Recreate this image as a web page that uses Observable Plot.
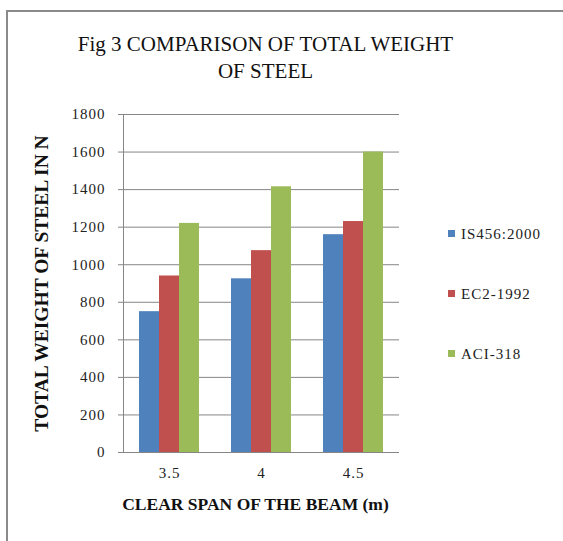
<!DOCTYPE html>
<html>
<head>
<meta charset="utf-8">
<script src="https://cdn.jsdelivr.net/npm/d3@7"></script>
<script src="https://cdn.jsdelivr.net/npm/@observablehq/plot@0.6"></script>
<style>
  html, body { margin: 0; padding: 0; background: #fff; }
  #wrap { position: relative; width: 563px; height: 541px; overflow: hidden; background: #fff; }
  #border { position: absolute; left: 6px; top: 10px; width: 600px; height: 600px;
            border-left: 2px solid #8a8a8a; border-top: 2px solid #8a8a8a; box-sizing: border-box; }
  #chart { position: absolute; left: 0; top: 0; }
  #legend { position: absolute; left: 448px; top: 226px; }
  #chart svg, #chart svg text { font-family: "Liberation Serif", "Times New Roman", serif !important; }
  g[aria-label="y-axis tick label"] text,
  g[aria-label="x-axis tick label"] text { letter-spacing: 1px; }
  #legend .lg-swatches, #legend .lg-swatches * { font-family: "Liberation Serif", "Times New Roman", serif !important; font-size: 15px !important; color: #222 !important; letter-spacing: 1px; }
  #legend .lg-swatch { height: 59px; align-items: flex-start !important; margin: 0 !important; }
  #legend .lg-swatch svg { margin-right: 6px !important; margin-top: 4px; }
</style>
</head>
<body>
<div id="wrap">
  <div id="border"></div>
  <div id="chart"></div>
  <div id="legend"></div>
</div>
<script>
const spans = ["3.5", "4", "4.5"];
const series = ["IS456:2000", "EC2-1992", "ACI-318"];
const is456 = [750, 925, 1160];
const ec2 = [940, 1075, 1230];
const aci = [1220, 1415, 1600];
const yTicks = [0, 200, 400, 600, 800, 1000, 1200, 1400, 1600, 1800];
const colors = ["#4F81BD", "#C0504D", "#9BBB59"];
const titleText = "Fig 3 COMPARISON OF TOTAL WEIGHT\nOF STEEL";
const xTitle = "CLEAR SPAN OF THE BEAM (m)";
const yTitle = "TOTAL WEIGHT OF STEEL IN N";

const valuesBySeries = [is456, ec2, aci];
const data = [];
spans.forEach((s, i) => series.forEach((name, k) => data.push({span: s, series: name, value: valuesBySeries[k][i]})));

const grid = "#868686";
const serif = "'Liberation Serif', 'Times New Roman', serif";

const chart = Plot.plot({
  width: 563,
  height: 541,
  marginLeft: 123,
  marginRight: 164,
  marginTop: 114,
  marginBottom: 89,
  style: "font-family: 'Liberation Serif', serif; font-size: 15px; color: #222; background: transparent;",
  x: {domain: spans, paddingInner: 0.7826, paddingOuter: 0.3913, round: false},
  y: {domain: [0, 1800]},
  color: {domain: series, range: colors},
  marks: [
    Plot.gridY(yTicks, {stroke: grid, strokeOpacity: 1}),
    ...series.map((name, k) => Plot.barY(data.filter(d => d.series === name), {
      x: "span", y: "value", fill: "series", dx: (k - 1) * 20
    })),
    Plot.ruleY([0], {stroke: grid}),
    Plot.frame({anchor: "left", stroke: grid}),
    Plot.axisY(yTicks, {tickSize: 5, tickPadding: 13, stroke: grid, fill: "#222", label: null, fontSize: 15, fontFamily: serif, tickFormat: d => String(d)}),
    Plot.axisX({tickSize: 0, tickPadding: 15, fill: "#222", label: null, fontSize: 15, fontFamily: serif}),
    Plot.text([yTitle], {frameAnchor: "left", textAnchor: "middle", rotate: -90, dx: -82, fontWeight: "bold", fontSize: 19.5, fill: "#111", fontFamily: serif}),
    Plot.text([xTitle], {frameAnchor: "bottom", dx: -6, dy: 57, fontWeight: "bold", fontSize: 17.5, fill: "#111", fontFamily: serif}),
    Plot.text([titleText], {frameAnchor: "top", dx: 4, dy: -83, lineAnchor: "top", lineHeight: 1.3, fontSize: 21, fill: "#111", fontFamily: serif})
  ]
});
document.getElementById("chart").appendChild(chart);

const legend = Plot.legend({
  color: {domain: series, range: colors},
  columns: 1,
  swatchSize: 7,
  className: "lg"
});
document.getElementById("legend").appendChild(legend);
</script>
</body>
</html>
